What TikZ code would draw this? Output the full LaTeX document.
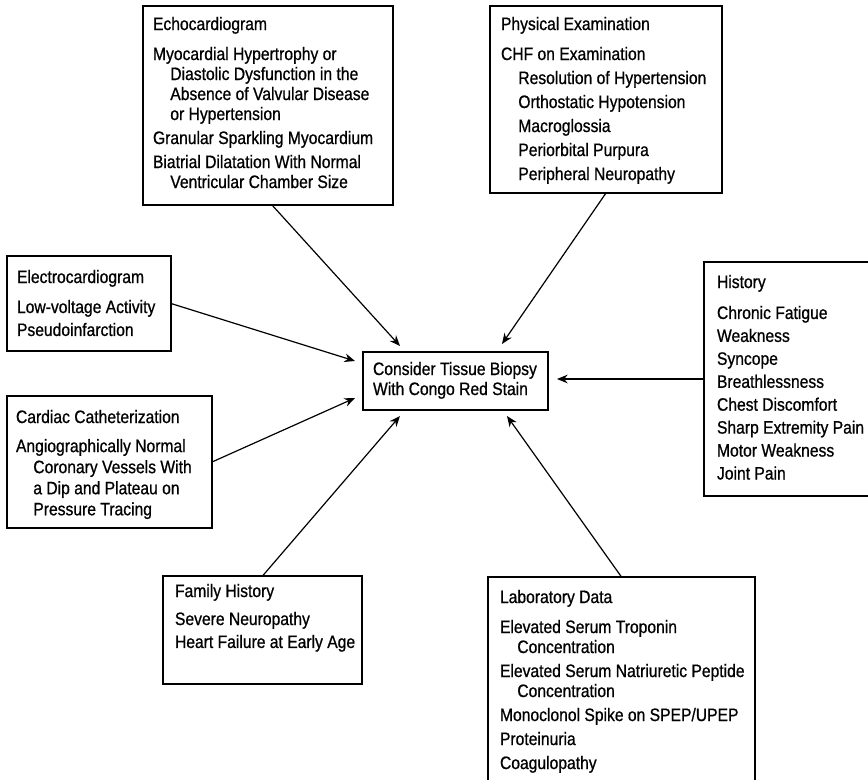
\documentclass[tikz,border=0pt]{standalone}
\usepackage{fontspec}
\setmainfont{Liberation Sans}[FakeStretch=0.87, FakeBold=0.8]
\usetikzlibrary{arrows.meta}
% first-line strut: fixes the distance from a text block's top edge to its first baseline
\newcommand{\headstrut}{\rule{0pt}{10pt}}
% hanging indent for continuation lines and sub-items
\newcommand{\subind}{\hspace*{13pt}}
\begin{document}
\begin{tikzpicture}[x=0.75pt,y=-0.75pt,
  panel/.style={draw=black, line width=1.1pt, inner sep=0pt, outer sep=0pt, anchor=north west},
  body/.style={anchor=north west, inner sep=0pt, outer sep=0pt, align=left,
               font=\fontsize{13.5}{15}\selectfont},
  link/.style={draw=black, line width=0.9pt, -{Stealth[length=8pt,width=6.5pt]}}
]
\clip (0,0) rectangle (868,780);

% ---------- boxes ----------
\node[panel, minimum width=250*0.75pt, minimum height=199*0.75pt] (echo) at (143,6) {};
\node[panel, minimum width=232*0.75pt, minimum height=187*0.75pt] (phys) at (490,6) {};
\node[panel, minimum width=164*0.75pt, minimum height=95*0.75pt]  (ecg)  at (7,256) {};
\node[panel, minimum width=205*0.75pt, minimum height=132*0.75pt] (cath) at (7,396) {};
\node[panel, minimum width=185*0.75pt, minimum height=58*0.75pt]  (biopsy) at (363,352) {};
\node[panel, minimum width=200*0.75pt, minimum height=234*0.75pt] (hist) at (704,262) {};
\node[panel, minimum width=199*0.75pt, minimum height=108*0.75pt] (fam)  at (163,576) {};
\node[panel, minimum width=267*0.75pt, minimum height=240*0.75pt] (lab)  at (488,577) {};

% ---------- box texts ----------
\node[body] (echo-t) at ([shift={(10,10.7)}]echo.north west) {%
\headstrut Echocardiogram\\[7.5pt]
Myocardial Hypertrophy or\\
\subind Diastolic Dysfunction in the\\
\subind Absence of Valvular Disease\\
\subind or Hypertension\\[3pt]
Granular Sparkling Myocardium\\[3pt]
Biatrial Dilatation With Normal\\
\subind Ventricular Chamber Size};

\node[body] (phys-t) at ([shift={(11,10.7)}]phys.north west) {%
\headstrut Physical Examination\\[7.5pt]
CHF on Examination\\[3pt]
\subind Resolution of Hypertension\\[3pt]
\subind Orthostatic Hypotension\\[3pt]
\subind Macroglossia\\[3pt]
\subind Periorbital Purpura\\[3pt]
\subind Peripheral Neuropathy};

\node[body] (ecg-t) at ([shift={(10,13.7)}]ecg.north west) {%
\headstrut Electrocardiogram\\[7.5pt]
Low-voltage Activity\\[2.2pt]
Pseudoinfarction};

\node[body] (cath-t) at ([shift={(9,13.7)}]cath.north west) {%
\headstrut Cardiac Catheterization\\[6.8pt]
Angiographically Normal\\[0.8pt]
\subind Coronary Vessels With\\[0.8pt]
\subind a Dip and Plateau on\\[0.8pt]
\subind Pressure Tracing};

\node[body] (biopsy-t) at ([shift={(10,9.7)}]biopsy.north west) {%
\headstrut Consider Tissue Biopsy\\
With Congo Red Stain};

\node[body] (hist-t) at ([shift={(13,12.7)}]hist.north west) {%
\headstrut History\\[8.2pt]
Chronic Fatigue\\[2.2pt]
Weakness\\[2.2pt]
Syncope\\[2.2pt]
Breathlessness\\[2.2pt]
Chest Discomfort\\[2.2pt]
Sharp Extremity Pain\\[2.2pt]
Motor Weakness\\[2.2pt]
Joint Pain};

\node[body] (fam-t) at ([shift={(12,7.7)}]fam.north west) {%
\headstrut Family History\\[6pt]
Severe Neuropathy\\[2.2pt]
Heart Failure at Early Age};

\node[body] (lab-t) at ([shift={(12,12.7)}]lab.north west) {%
\headstrut Laboratory Data\\[7.5pt]
Elevated Serum Troponin\\
\subind Concentration\\[3pt]
Elevated Serum Natriuretic Peptide\\
\subind Concentration\\[3pt]
Monoclonol Spike on SPEP/UPEP\\[3pt]
Proteinuria\\[3pt]
Coagulopathy};

% ---------- arrow tips near the central box ----------
\coordinate (t-echo) at ([shift={(37,-6)}]biopsy.north west);
\coordinate (t-phys) at ([shift={(-46,-8)}]biopsy.north east);
\coordinate (t-ecg)  at ([shift={(-8,9)}]biopsy.north west);
\coordinate (t-cath) at ([shift={(-8,-12)}]biopsy.south west);
\coordinate (t-fam)  at ([shift={(37,6)}]biopsy.south west);
\coordinate (t-lab)  at ([shift={(-41,6)}]biopsy.south east);
\coordinate (t-hist) at ([xshift=9*0.75pt]biopsy.east |- hist.west);

% ---------- connectors ----------
\draw[link] ([xshift=3pt]echo.south) -- (t-echo);
\draw[link] (phys.south) -- (t-phys);
\draw[link] (ecg.east) -- (t-ecg);
\draw[link] (cath.east) -- (t-cath);
\draw[link] (hist.west) -- (t-hist);
\draw[link] (fam.north) -- (t-fam);
\draw[link] (lab.north) -- (t-lab);
\end{tikzpicture}
\end{document}
